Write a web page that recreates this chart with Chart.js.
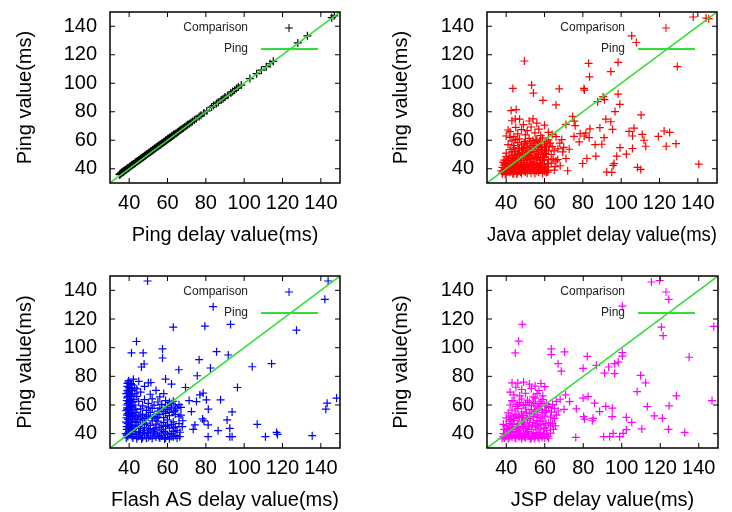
<!DOCTYPE html>
<html>
<head>
<meta charset="utf-8">
<script src="https://cdn.jsdelivr.net/npm/chart.js@4.4.1/dist/chart.umd.min.js"></script>
<style>
  body { margin: 0; background: #fff; }
  .panel { position: absolute; }
</style>
</head>
<body>
<canvas id="c1" class="panel" width="366" height="256" style="left:0;top:0"></canvas>
<canvas id="c2" class="panel" width="366" height="256" style="left:366px;top:0"></canvas>
<canvas id="c3" class="panel" width="366" height="256" style="left:0;top:256px"></canvas>
<canvas id="c4" class="panel" width="366" height="256" style="left:366px;top:256px"></canvas>
<script>
// axis ticks shared by every panel
const tickValues = [40, 60, 80, 100, 120, 140];
const axisRange = [30, 150];
const pingLine = [30, 150];

const xTitles = ['Ping delay value(ms)', 'Java applet delay value(ms)', 'Flash AS delay value(ms)', 'JSP delay value(ms)'];
const yTitle = 'Ping value(ms)';
const legendLabels = ['Comparison', 'Ping'];

// [delay, ping] pairs
const pingPairs = [
  [35,36],[35.4,36.6],[35.8,36.8],[36.2,37.4],[36.6,37.6],[37,38.1],[37.4,38.3],[37.8,38.9],[38.2,39.1],[38.6,39.6],
  [39,40.1],[39.5,40.4],[40,40.9],[40.5,41.5],[41,41.9],[41.5,42.4],[42,43],[42.5,43.4],[43,43.9],[43.5,44.5],
  [44,44.9],[44.5,45.3],[45,45.9],[45.5,46.4],[46,46.8],[46.5,47.4],[47,47.8],[47.5,48.4],[48,48.8],[48.5,49.3],
  [49,49.8],[49.5,50.3],[50,50.8],[50.5,51.2],[51,51.8],[51.5,52.2],[52,52.7],[52.5,53.3],[53,53.7],[53.5,54.2],
  [54,54.7],[54.5,55.2],[55,55.6],[55.5,56.2],[56,56.6],[56.5,57.1],[57,57.6],[57.5,58.1],[58,58.6],[58.5,59],
  [59,59.6],[59.5,60],[60,60.6],[60.5,61],[61,61.5],[61.5,62],[62,62.5],[62.5,63],[63,63.5],[63.5,63.9],
  [64,64.5],[64.6,65],[65.2,65.6],[65.8,66.2],[66.4,66.8],[67,67.4],[67.6,68],[68.3,68.6],[69,69.3],[69.8,70.1],
  [70.5,70.8],[71.3,71.5],[72.2,72.4],[73,73.2],[74,74.2],[75,75.1],[76.5,76.6],[77.5,77.6],[79,79.1],[80.5,80.6],
  [83,83.3],[84,84.4],[85.5,85.8],[86.5,86.7],[88,88.2],[89,89.2],[90,90.3],[91.5,91.6],[93,93.1],[94,94.2],
  [95,95.1],[96,96.3],[97,97.3],[98.5,98.7],[103,103.3],[106.5,106.7],[109,109.2],[111.5,111.6],[113.5,113.7],[115.2,115.4],
  [128,128.3],[133,133.3],[145.7,146],[147,147.3],
  [35.2,35.8],[36,37.2],[36.8,38],[37.6,38.8],[38.4,39.5],[39.2,40.4],[40.2,41.4],[41.2,42.4],[42.2,43.4],[43.2,44.4],
  [44.2,45.4],[45.2,46.3],[46.2,47.3],[47.2,48.3],[48.2,49.3],[49.2,50.2],[50.2,51.2],[51.2,52.2],[52.2,53.2],[53.2,54.2],
  [54.2,55.1],[55.2,56.1],[56.2,57.1],[57.2,58],[58.2,59],[59.2,60],[60.2,61],[61.2,62],[62.2,63],[63.2,64]
];

const javaPairs = [
  [38,37],[39,38.5],[40,36.5],[41,39],[42,37.5],[43,38],[44,36.8],[45,39.5],[46,37.2],[47,38.4],
  [48,36.6],[49,39.2],[50,37.8],[51,36.9],[52,38.8],[53,37.1],[54,39.6],[55,36.7],[56,38.2],[57,37.5],
  [58,39.1],[59,36.8],[60,38],[61,37.4],[62,38.9],[39.5,36.2],[41.5,37.9],[43.5,39.8],[45.5,36.4],[47.5,37.7],
  [49.5,38.6],[38,41],[39,42.5],[40,40.5],[40.5,44],[41,41.8],[42,43.5],[43,40.7],[44,42.8],[44.5,44.6],
  [45,41.2],[46,43.9],[47,40.3],[48,42.1],[49,44.3],[50,41],[51,43],[52,40.6],[53,44.7],[54,42.2],
  [55,40.9],[56,43.6],[57,41.5],[58,44.2],[59,40.4],[60,42.7],[62,41.3],[39.5,43.6],[41.5,40.2],[43.5,44.9],
  [46.5,41.9],[39,46],[40,48.5],[41,45.5],[42,47.3],[43,49.6],[44,46.2],[45,48.1],[46,45.3],[47,49.2],
  [48,47.4],[49,45.8],[50,48.9],[51,46.6],[52,49.7],[53,47.1],[54,45.2],[55,48.4],[56,46.7],[57,49.9],
  [58,47.6],[59,45.9],[60,48.3],[61,50],[62,46.4],[44.5,49.8],[40,51],[42,53.5],[43,51.8],[44,54.7],
  [45,52.3],[46,50.6],[47,53.9],[48,51.4],[49,54.2],[50,52.6],[51,50.8],[52,53.8],[53,51.9],[54,54.6],
  [55,52.2],[56,50.9],[57,53.4],[58,55],[59,51.7],[60,53.1],[61,55.3],[62,52.5],[41,57],[43,59.5],
  [44,56.2],[46,58.4],[47,61],[48,56.8],[50,59.2],[51,57.5],[52,61.3],[53,56.1],[54,59.8],[55,57.9],
  [56,60.7],[57,56.4],[58,58.6],[59,61.5],[60,57.3],[61,59.4],[62,60.2],[63,58],[40,63],[42,66],
  [44,62.5],[45,69],[46,64.5],[48,67.5],[49,71],[50,63.8],[51,66.7],[52,73.5],[53,69.3],[54,75],
  [55,65.2],[56,72],[57,67.8],[58,63.3],[60,70.6],[62,65.5],[41,67.2],[43,73.7],[47,74.8],[64,64],
  [66,62.5],[68,58],[70,55],[69,60.5],[67,54],
  [38.5,38],[39.5,39.5],[40.5,37.8],[41.5,41],[42.5,39],[43.5,36.4],[44.5,40],[45.5,42.5],[46.5,39.8],[47.5,43],
  [48.5,40.8],[49.5,42.6],[50.5,39.5],[51.5,41.5],[52.5,44],[53.5,40],[54.5,38.2],[55.5,43],[56.5,41],[57.5,39.6],
  [58.5,42.2],[59.5,39],[60.5,40.8],[61.5,43.6],[42.5,45.8],[43.5,47.5],[45.5,46.5],[47.5,45.6],[48.5,50],[50.5,46],
  [51.5,48.2],[53.5,49],[54.5,47.3],[56.5,48],[57.5,46],[59.5,47.8],[60.5,50.8],[44.5,52],[46.5,54.5],[48.5,53],
  [50.5,55],[52.5,51.5],[54.5,56.5],[56.5,55.5],[58.5,53],[60.5,55.8],[62.5,56],[49.5,58],[52.5,58.8],[55.5,60],
  [57.5,59.2],[45,60.5],[42,62],[39,40.8],[40,42.3],[38.5,44.5],[41,47],[43,42],[37.5,38.5],[38,36.5],
  [63.5,50],[64.5,47],[65,52.5],[63.5,44],[66,45.5],[64,55.5],[65.5,41.5],
  [137.6,146.5],[144.3,145.8],[145.7,145.3],[105.5,133.3],[107.9,128.6],[129.3,111.7],[98.4,114.7],[94.6,108.2],[83,114],[83.5,104.5],
  [80.6,96.4],[80.8,95.2],[49.5,115.6],[43.5,96.4],[53.3,98.7],[54.2,93.1],[59.2,88],[67.7,96.1],[66,84.8],[42.6,80.8],
  [45.2,81.5],[44.7,75],[98.4,92.4],[99.3,85.2],[90.6,90.6],[91.3,88.5],[87.7,87.1],[96.8,80.1],[92,74.8],[94.6,73],
  [95.5,67.6],[88.9,68.8],[83.7,68],[81.6,65],[78.6,64.6],[80.7,63],[75.4,62.7],[74.7,76.7],[75.5,73.4],[76,70.2],
  [71.2,71.1],[104.1,66.2],[106.7,68.5],[105.9,63],[110.4,77.8],[111,64.1],[111.9,60],[112.8,55.8],[105.9,54.2],[102.7,50.2],
  [97.7,48.8],[96.3,43.7],[95.8,42.3],[99.4,54.8],[91.1,61.8],[89.9,57.2],[86.4,57],[82.1,47.2],[79.9,43.7],[86.8,48.8],
  [92.5,37.7],[95.1,37.5],[108.5,40.9],[110.2,39.5],[119.4,62.7],[122.4,66.5],[125.3,65.5],[123.5,55.8],[128.6,57.6],[140.5,43.2],
  [83.3,61.8],[78.1,58.8],[72.9,53.7],[69.5,51.8],[71.2,47.2],[66.9,46.5],[68.2,42.1],[72.1,38.6],[65.1,39.1],[61.7,37.7]
];

const flashPairs = [
  [38.5,37],[39,39],[39.5,41],[38.8,43],[40,45],[39.2,47],[40.5,49],[38.6,51],[39.8,53],[40.2,55],
  [39,57],[40.8,59],[39.4,61],[40,63],[38.9,65],[40.6,67],[39.6,69],[40.3,71],[39.1,73],[40.9,75],
  [39.8,77],[41.5,38],[41.2,42],[41.8,46],[41,50],[41.6,54],[41.3,58],[41.9,62],[41.1,66],[41.7,70],
  [41.4,74],[38.2,40],[38.4,48],[38.3,56],[38.7,60],[38.5,68],[42.5,64],[42.8,72],[43,68],[42.2,78],
  [39.3,38],[40.1,40],[39.7,44],[40.4,46],[39.5,50],[40.7,52],[39.3,54],[40.5,58],[39.9,62],[40.7,64],
  [39.3,66],[40.2,68],[39.8,72],[40.5,74],[39.5,76],[41.3,40],[41.1,44],[41.5,48],[41.7,52],[41.2,56],
  [41.5,60],[41.3,64],[41.5,68],[41.2,72],[38.8,39],[38.6,45],[38.9,53],[38.9,58],[38.8,63],[39,70],
  [39.1,75],
  [42,37],[43,39.5],[44,36.5],[45,38.2],[46,40.8],[47,37.3],[48,39],[49,36.8],[50,41],[51,38.4],
  [52,36.6],[53,39.8],[54,37.7],[55,40.3],[56,36.9],[57,38.6],[58,41.4],[59,37.2],[60,39.4],[61,36.4],
  [62,40],[63,37.9],[64,38.8],[65,36.8],[43.5,41.5],[46.5,36.3],[49.5,40.2],[52.5,41.8],[55.5,38.1],[58.5,36.2],
  [42,43],[43,45.5],[44,48],[45,43.6],[46,46.2],[47,49.4],[48,44.1],[49,47.3],[50,42.5],[51,45.8],
  [52,49],[53,43.2],[54,46.7],[55,48.8],[56,44.4],[57,42.6],[58,47.9],[59,45.1],[60,49.6],[61,43.8],
  [62,46.5],[63,48.2],[64,44.7],[65,42.3],[44.5,50],[47.5,42.1],[43,51],[44,55],[45,52.4],[46,57.3],
  [47,53.6],[48,50.7],[49,56.2],[50,51.9],[51,54.8],[52,57.6],[53,52.1],[54,50.4],[55,55.7],[56,53.3],
  [57,57.1],[58,51.2],[59,54.1],[60,56.8],[61,52.6],[62,58],[63,55.2],[64,53.5],[65,57.4],[66,51.8],
  [43,60],[44,66],[45,62.5],[46,69],[47,59.4],[48,63.8],[50,61.2],[51,67.5],[52,64.3],[53,59.9],
  [54,70.2],[55,62.1],[56,65.6],[57,60.4],[58,68],[59,63.1],[60,59.6],[61,61.9],[62,60.8],[63,62.6],
  [64,59.2],[66,60.2],[67,58.4],[48,73],[50,75.5],[45,76.5],[44,71.3],
  [44,38],[47,40.5],[50,37.5],[53,41],[56,38.5],[59,40.5],[62,38],[45,45],[48,46.5],[51,43.5],
  [54,44],[57,45.5],[60,46],[63,44],[46,51.5],[49,53],[52,51],[55,51.5],[58,55.5],[61,54.8],
  [64,56],[50,58.5],[56,57.8],[60,58],[43.5,57],[43.5,48],[42.5,53],[45.5,40.5],
  [66,47],[67,53],[66.5,41],[68,49],
  [49.6,146.5],[143.8,146.5],[142.1,133.7],[83.8,128.6],[127.3,112.2],[63,114.3],[79.5,115],[92.9,116.2],[43.8,104.3],[41.2,96.3],
  [47.3,96.3],[57.4,99.1],[57.4,92.8],[85.6,97.2],[91.7,94.9],[76.5,91.6],[47.8,88.6],[46.4,86.5],[65.9,84.6],[82.4,85.8],
  [104.2,86.7],[114.3,88.8],[75.5,80.4],[59,78.1],[62.1,74.6],[51.3,75.7],[96.5,72.2],[69.4,72.2],[76.9,67.1],[78.6,68.3],
  [80.3,63.6],[87.7,63.6],[75.1,62.4],[72.5,55.4],[81.3,57.1],[78.3,50.3],[79,48.9],[93.7,55.2],[91.1,49.6],[92.5,43.7],
  [93.7,37.9],[92.5,37.9],[86.4,42.1],[81.2,46.1],[81.2,37.9],[74.3,46.1],[73.4,43],[106.8,46.5],[111.1,37.9],[116.9,40.9],
  [117.4,39.5],[135.5,38.6],[142.6,57.1],[143.3,61.3],[148.2,64.8],[67.7,44.9],[66.4,37.9],[63,41.4],[71.3,63.1]
];

const jspPairs = [
  [39,37],[40,38.8],[41,36.4],[42,40.5],[43,37.6],[44,39.3],[45,36.8],[46,41.2],[47,38.1],[48,36.5],
  [49,39.9],[50,37.3],[51,41.6],[52,38.7],[53,36.9],[54,40.1],[55,37.8],[56,39.5],[57,36.6],[58,41],
  [59,38.3],[60,37],[61,39.7],[62,36.8],[63,40.4],[38.5,40],[40.5,41.8],[44.5,41.4],[48.5,38],[52.5,36.2],
  [39,43],[40,45.6],[41,42.6],[42,47.1],[43,44.4],[44,49.3],[45,43.1],[46,46.8],[47,42.4],[48,48.2],
  [49,45.3],[50,43.7],[51,49.5],[52,46.1],[53,42.9],[54,47.8],[55,44.6],[56,49.1],[57,43.4],[58,46.3],
  [59,48.7],[60,44],[61,42.2],[62,47.5],[63,45.9],[38.5,46.5],[41.5,48.8],[40,51],[41,54.5],[42,52.3],
  [43,56.4],[44,50.6],[45,53.7],[46,57.5],[47,51.4],[48,55.2],[49,52.8],[50,57.9],[51,50.3],[52,54],
  [53,56.8],[54,51.9],[55,55.7],[56,53.1],[57,57.3],[58,50.8],[59,54.6],[60,52.2],[61,56.1],[62,58.4],
  [63,51.5],[42,60],[44,62.8],[45,59.1],[47,61.6],[48,64.2],[50,60.5],[51,63.3],[53,59.6],[54,62.1],
  [55,64.8],[56,58.7],[57,61.2],[58,60],[59,63.7],[60,59.3],[61,61],[62,58.9],[64,60.3],[66,62.5],
  [68,64],[65,57.5],[67,55.8],[70,57],[42,69],[43,75.5],[44,67],[45,72.4],[46,75.3],[47,66.3],
  [48,70.8],[50,68.2],[52,74.6],[53,71.5],[54,65.7],[55,73.2],[56,67.9],[57,70.1],[59,66.4],[60,72.8],
  [58,75],[49,76],
  [39.5,38],[40.5,39.6],[41.5,37.5],[42.5,38.7],[43.5,41],[44.5,37.2],[45.5,39.5],[46.5,38],[47.5,40.4],[49.5,37.8],
  [50.5,40.6],[51.5,38.5],[53.5,38.8],[54.5,36.8],[55.5,40.8],[56.5,37.5],[57.5,39.6],[58.5,37.3],[59.5,40.2],[61.5,38],
  [40.5,43.5],[42.5,44.2],[43.5,46.5],[45.5,45],[46.5,43.8],[48.5,44.5],[49.5,47.5],[51.5,45],[53.5,45.6],[55.5,47],
  [56.5,45.2],[57.5,48.5],[59.5,43.5],[60.5,47.2],[42.5,49.8],[44.5,53],[46.5,52],[48.5,51.4],[50.5,54.5],[52.5,50.6],
  [54.5,55.2],[56.5,51.5],[58.5,56.4],[60.5,55],[46,60.5],[49,59.6],[52,61.8],[55,61],[58,62.6],[43,63],
  [38.5,38],[37.8,36.6],
  [64,47],[65,50.5],[64.5,43],[66,53],[63.5,55],[65.5,45.5],
  [115.4,145.8],[119.7,146.8],[124.4,133.7],[100.3,129],[120.6,114.3],[121.5,108.4],[147.8,114.8],[48.3,116.2],[46.4,104.5],[44.7,96.3],
  [63.4,99.1],[63.4,95.1],[70.3,97],[82.1,93.9],[100.3,96.6],[100.3,94.1],[135,93.3],[79.9,85.6],[66.9,88.8],[68.6,83.6],
  [86.8,87.7],[93.2,86.5],[96.3,88.8],[98.2,89.9],[96.3,81.9],[91.1,82.3],[109.8,80.6],[112.4,75.5],[108,69.4],[128.4,66.4],
  [146.9,63.1],[113.3,58.9],[124.6,59.4],[116.9,52.4],[121.1,50.7],[124.3,43],[132.7,40.9],[110.4,43.3],[105.2,47.9],[102.4,42.8],
  [100.7,40.2],[98.9,37.9],[95.5,40.2],[93.7,37.9],[90.6,37.9],[76.1,37.4],[102.4,51.4],[95,51.9],[95.1,57.8],[91.7,59],
  [85.1,50.7],[84.7,49],[80.2,51.9],[80.7,50.2],[79.9,64.8],[76.4,57.3],[72.9,62.4],[70.8,67.1],[82.5,65.9],[85.9,61.3],
  [88.5,55.4]
];

const seriesColors = ['#000000', '#ff0000', '#0000ff', '#ff00ff'];
const lineColor = '#33dd33';
const fontFamily = "'Liberation Sans', Arial, Helvetica, sans-serif";

// gnuplot-like frame with inward mirrored ticks plus the small key in the corner
const framePlugin = {
  id: 'frame',
  afterDatasetsDraw(chart, args, opts) {
    const { ctx, chartArea: a, scales } = chart;
    ctx.save();
    ctx.strokeStyle = '#000';
    ctx.lineWidth = 1.5;
    ctx.strokeRect(a.left, a.top, a.right - a.left, a.bottom - a.top);
    ctx.lineWidth = 1;
    ctx.beginPath();
    tickValues.forEach(v => {
      const px = scales.x.getPixelForValue(v);
      const py = scales.y.getPixelForValue(v);
      ctx.moveTo(px, a.bottom); ctx.lineTo(px, a.bottom - 5);
      ctx.moveTo(px, a.top); ctx.lineTo(px, a.top + 5);
      ctx.moveTo(a.left, py); ctx.lineTo(a.left + 5, py);
      ctx.moveTo(a.right, py); ctx.lineTo(a.right - 5, py);
    });
    ctx.stroke();

    // key
    ctx.font = '12px ' + fontFamily;
    ctx.fillStyle = '#222';
    ctx.textAlign = 'right';
    ctx.textBaseline = 'middle';
    const kx = a.left + 138, k1 = a.top + 16, k2 = a.top + 37;
    ctx.fillText(legendLabels[0], kx, k1);
    ctx.fillText(legendLabels[1], kx, k2);
    ctx.strokeStyle = opts.color;
    ctx.beginPath();
    ctx.moveTo(a.left + 175, k1); ctx.lineTo(a.left + 183, k1);
    ctx.moveTo(a.left + 179, k1 - 4); ctx.lineTo(a.left + 179, k1 + 4);
    ctx.stroke();
    ctx.strokeStyle = lineColor;
    ctx.lineWidth = 2;
    ctx.beginPath();
    ctx.moveTo(a.left + 151, k2); ctx.lineTo(a.left + 208, k2);
    ctx.stroke();
    ctx.restore();
  }
};

function makePanel(id, pairs, color, xTitle, box) {
  const font = { family: fontFamily, size: 20 };
  return new Chart(document.getElementById(id), {
    type: 'scatter',
    data: {
      datasets: [
        {
          label: legendLabels[1],
          type: 'line',
          data: pingLine.map(v => ({ x: v, y: v })),
          borderColor: lineColor,
          borderWidth: 1.5,
          pointRadius: 0,
          showLine: true,
          order: 0
        },
        {
          label: legendLabels[0],
          data: pairs.map(p => ({ x: p[0], y: p[1] })),
          pointStyle: 'cross',
          pointRadius: 4,
          borderColor: color,
          backgroundColor: color,
          borderWidth: 1.2,
          order: 1
        }
      ]
    },
    options: {
      responsive: false,
      animation: false,
      events: [],
      layout: { padding: { left: 0, top: box.top, right: box.right, bottom: 0 } },
      plugins: {
        legend: { display: false },
        tooltip: { enabled: false },
        frame: { color: color }
      },
      scales: {
        x: {
          type: 'linear',
          min: axisRange[0],
          max: axisRange[1],
          afterBuildTicks: s => { s.ticks = tickValues.map(v => ({ value: v })); },
          afterFit: s => { s.height = box.xh; s.paddingLeft = 0; s.paddingRight = 0; },
          grid: { display: false, drawTicks: false },
          border: { display: false },
          ticks: { font: font, color: '#000', padding: 8, maxRotation: 0 },
          title: { display: true, text: xTitle, font: font, color: '#000', padding: { top: 0, bottom: box.xt } }
        },
        y: {
          type: 'linear',
          min: axisRange[0],
          max: axisRange[1],
          afterBuildTicks: s => { s.ticks = tickValues.map(v => ({ value: v })); },
          afterFit: s => { s.width = box.yw; s.paddingTop = 0; s.paddingBottom = 0; },
          grid: { display: false, drawTicks: false },
          border: { display: false },
          ticks: { font: font, color: '#000', padding: 13 },
          title: { display: true, text: yTitle, font: font, color: '#000', padding: { top: box.yt, bottom: 0 } }
        }
      }
    },
    plugins: [framePlugin]
  });
}

makePanel('c1', pingPairs, seriesColors[0], xTitles[0], { top: 12, right: 26, xh: 73, yw: 110, xt: 9, yt: 13 });
makePanel('c2', javaPairs, seriesColors[1], xTitles[1], { top: 12, right: 15, xh: 73, yw: 121, xt: 9, yt: 23 });
makePanel('c3', flashPairs, seriesColors[2], xTitles[2], { top: 20, right: 26, xh: 64, yw: 110, xt: 0, yt: 13 });
makePanel('c4', jspPairs, seriesColors[3], xTitles[3], { top: 20, right: 14, xh: 64, yw: 121, xt: 0, yt: 23 });
</script>
</body>
</html>
